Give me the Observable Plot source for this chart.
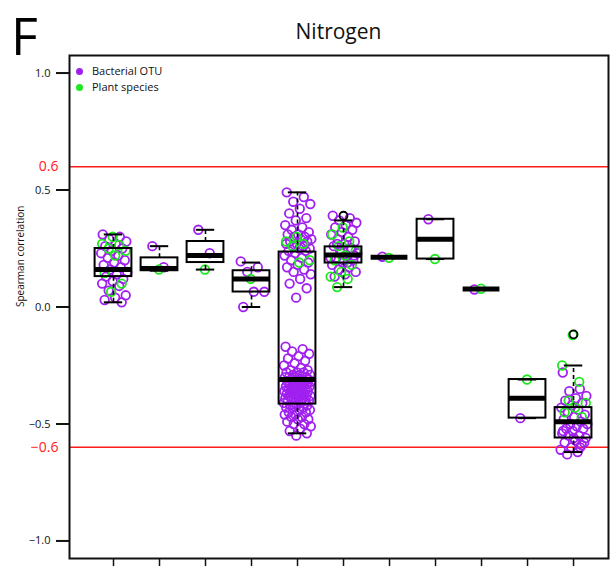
<!DOCTYPE html>
<html><head><meta charset="utf-8">
<script src="https://cdn.jsdelivr.net/npm/d3@7"></script>
<script src="https://cdn.jsdelivr.net/npm/@observablehq/plot@0.6"></script>
<style>
body{margin:0;background:#fff;font-family:"Open Sans",sans-serif}
#wrap{position:relative;width:612px;height:566px}
#panel{position:absolute;left:11px;top:9px;font-size:52px;line-height:52px;color:#000}
#title{position:absolute;left:69px;width:539px;top:18px;text-align:center;font-size:21px;line-height:26px;font-weight:500;color:#111}
.leg{position:absolute;left:76px;font-size:11px;line-height:14px;color:#111;display:flex;align-items:center}
.leg span.d{display:inline-block;width:7px;height:7px;border-radius:50%;margin-right:9px}
</style></head>
<body>
<div id="wrap">
  <div id="chart"></div>
  <div id="panel">F</div>
  <div id="title">Nitrogen</div>
  <div class="leg" style="top:64px"><span class="d" style="background:#a020f0"></span>Bacterial OTU</div>
  <div class="leg" style="top:80px"><span class="d" style="background:#1ee81e"></span>Plant species</div>
</div>
<script>
const groups = [1,2,3,4,5,6,7,8,9,10,11];
const yTicks = [-1, -0.5, 0, 0.5, 1];
const redTicks = [0.6, -0.6];

// box statistics per group
const whiskerLow  = [0.02, 0.155, 0.16, 0.0, -0.54, 0.085, 0.213, 0.205, 0.077, -0.475, -0.62];
const q1          = [0.13, 0.155, 0.19, 0.064, -0.415, 0.188, 0.213, 0.205, 0.077, -0.475, -0.56];
const median      = [0.16, 0.165, 0.22, 0.12, -0.31, 0.222, 0.213, 0.29, 0.077, -0.39, -0.49];
const q3          = [0.25, 0.21, 0.28, 0.155, 0.235, 0.257, 0.213, 0.375, 0.077, -0.31, -0.43];
const whiskerHigh = [0.31, 0.26, 0.33, 0.19, 0.49, 0.37, 0.213, 0.375, 0.077, -0.31, -0.25];
const outlierGroup = [6, 11];
const outlierValue = [0.39, -0.117];

// points: Bacterial OTU (purple) per group
const otuValues = [
  [0.31,0.30,0.29,0.28,0.27,0.26,0.25,0.24,0.23,0.22,0.21,0.20,0.19,0.18,0.17,0.16,0.15,0.14,0.13,0.12,0.11,0.10,0.09,0.07,0.05,0.04,0.03,0.02],
  [0.26,0.17],
  [0.33,0.23],
  [0.195,0.17,0.15,0.065,0.065,0.0],
  [0.49,0.47,0.45,0.44,0.42,0.40,0.38,0.37,0.35,0.34,0.33,0.32,0.31,0.31,0.30,0.30,0.29,0.29,0.28,0.28,0.27,0.27,0.26,0.26,0.25,0.25,0.24,0.24,0.23,0.22,0.21,0.20,0.19,0.18,0.17,0.16,0.15,0.14,0.12,0.10,0.08,0.04,
   -0.17,-0.18,-0.19,-0.20,-0.21,-0.22,-0.23,-0.24,-0.25,-0.26,-0.27,-0.27,-0.28,-0.28,-0.28,-0.29,-0.29,-0.29,-0.30,-0.30,-0.30,-0.30,-0.31,-0.31,-0.31,-0.31,-0.32,-0.32,-0.32,-0.32,-0.33,-0.33,-0.33,-0.33,-0.34,-0.34,-0.34,-0.34,-0.35,-0.35,-0.35,-0.35,-0.36,-0.36,-0.36,-0.36,-0.37,-0.37,-0.37,-0.37,-0.38,-0.38,-0.38,-0.38,-0.39,-0.39,-0.39,-0.39,-0.40,-0.40,-0.40,-0.40,-0.41,-0.41,-0.41,-0.42,-0.42,-0.42,-0.43,-0.43,-0.43,-0.44,-0.44,-0.45,-0.45,-0.46,-0.46,-0.47,-0.47,-0.48,-0.48,-0.49,-0.50,-0.50,-0.51,-0.52,-0.53,-0.54,-0.55],
  [0.39,0.38,0.37,0.36,0.35,0.34,0.33,0.32,0.31,0.30,0.29,0.28,0.27,0.26,0.25,0.24,0.23,0.22,0.21,0.20,0.19,0.18,0.17,0.16,0.15,0.14,0.13,0.25,0.23,0.21,0.19,0.27,0.22,0.2],
  [0.215],
  [0.375],
  [0.075],
  [-0.475],
  [-0.28,-0.35,-0.36,-0.38,-0.39,-0.40,-0.41,-0.42,-0.43,-0.44,-0.45,-0.46,-0.47,-0.48,-0.49,-0.50,-0.50,-0.51,-0.52,-0.52,-0.53,-0.54,-0.55,-0.55,-0.56,-0.57,-0.58,-0.59,-0.60,-0.61,-0.62,-0.63,-0.58,-0.56,-0.53,-0.6]
];
// points: Plant species (green) per group
const plantValues = [
  [0.30,0.27,0.265,0.25,0.24,0.22,0.145,0.10,0.065],
  [0.16],
  [0.16],
  [0.12],
  [0.30,0.28,0.27,0.26,0.20,0.19],
  [0.34,0.31,0.28,0.26,0.24,0.22,0.20,0.18,0.15,0.13,0.12,0.085],
  [0.21],
  [0.205],
  [0.078],
  [-0.31],
  [-0.12,-0.25,-0.32,-0.40,-0.41,-0.43,-0.45,-0.47]
];

// deterministic horizontal jitter (position only)
function jit(k, s, w) { return (((k * 0.618034 + s) % 1) - 0.5) * w; }

const otuPts = [], plantPts = [];
groups.forEach((g, i) => {
  const w = otuValues[i].length > 3 ? 0.6 : 0.4;
  otuValues[i].forEach((v, k) => otuPts.push({g, v, j: jit(k, 0.11, w)}));
  plantValues[i].forEach((v, k) => plantPts.push({g, v, j: jit(k, 0.47, w)}));
});
const boxes = groups.map((g, i) => ({g, lo: whiskerLow[i], q1: q1[i], med: median[i], q3: q3[i], hi: whiskerHigh[i]}));
const outliers = outlierGroup.map((g, i) => ({g, v: outlierValue[i]}));

const purple = "#a020f0", green = "#1ee81e";
const fmt = d3.format(".1f");

const chart = Plot.plot({
  width: 612, height: 566,
  marginTop: 55, marginBottom: 8, marginLeft: 69, marginRight: 4,
  x: {type: "linear", domain: [0.0435, 11.76], axis: null},
  y: {domain: [-1.075, 1.075], axis: null},
  style: {fontFamily: "Open Sans, sans-serif", background: "white", color: "#111"},
  marks: [
    Plot.axisY({ticks: yTicks, tickFormat: d => fmt(d), tickSize: 13, tickPadding: 6, fontSize: 11, label: null, strokeWidth: 2}),
    Plot.axisY({ticks: redTicks, tickFormat: d => fmt(d), tickSize: 0, tickPadding: 11, fontSize: 14, color: "#ff1a1a", label: null}),
    Plot.axisX({ticks: groups, tickFormat: () => "", tickSize: 8, label: null, strokeWidth: 1.5}),
    Plot.ruleY(redTicks, {stroke: "#ff1a1a", strokeWidth: 1.5}),
    Plot.dot(otuPts, {x: d => d.g + d.j, y: "v", stroke: purple, r: 4.3, strokeWidth: 1.8}),
    Plot.dot(plantPts, {x: d => d.g + d.j, y: "v", stroke: green, r: 4.3, strokeWidth: 1.8}),
    Plot.ruleX(boxes, {x: "g", y1: "q3", y2: "hi", stroke: "black", strokeWidth: 1.6, strokeDasharray: "4,3"}),
    Plot.ruleX(boxes, {x: "g", y1: "lo", y2: "q1", stroke: "black", strokeWidth: 1.6, strokeDasharray: "4,3"}),
    Plot.ruleY(boxes, {y: "hi", x1: d => d.g - 0.2, x2: d => d.g + 0.2, stroke: "black", strokeWidth: 2}),
    Plot.ruleY(boxes, {y: "lo", x1: d => d.g - 0.2, x2: d => d.g + 0.2, stroke: "black", strokeWidth: 2}),
    Plot.rect(boxes, {x1: d => d.g - 0.4, x2: d => d.g + 0.4, y1: "q1", y2: "q3", fill: "none", stroke: "black", strokeWidth: 2}),
    Plot.ruleY(boxes, {y: "med", x1: d => d.g - 0.4, x2: d => d.g + 0.4, stroke: "black", strokeWidth: 5}),
    Plot.dot(outliers, {x: "g", y: "v", stroke: "black", r: 4, strokeWidth: 1.8}),
    Plot.text(["Spearman correlation"], {frameAnchor: "left", dx: -49, rotate: -90, fontSize: 10, fill: "#111"}),
    Plot.frame({stroke: "#111", strokeWidth: 2})
  ]
});
document.getElementById("chart").appendChild(chart);
</script>
</body></html>
